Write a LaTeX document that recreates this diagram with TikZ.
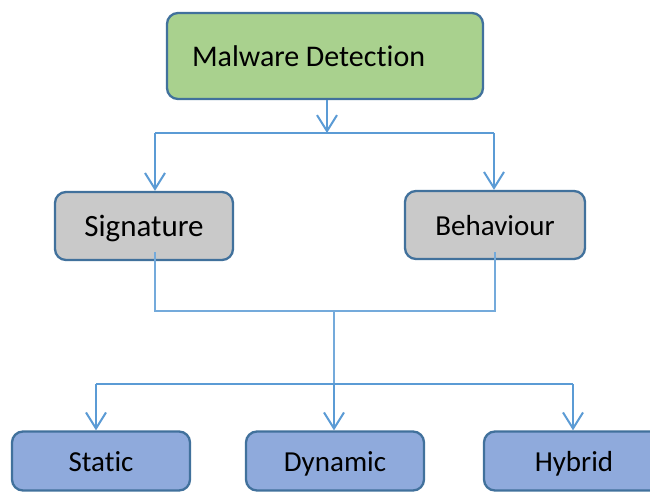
\documentclass[tikz,border=0pt]{standalone}
\usepackage{fontspec}
\setmainfont[Ligatures=NoCommon]{Carlito}
\usetikzlibrary{arrows.meta}
\definecolor{boxborder}{HTML}{41719C}
\definecolor{greenfill}{HTML}{A9D18E}
\definecolor{greyfill}{HTML}{C9C9C9}
\definecolor{bluefill}{HTML}{8FAADC}
\definecolor{connc}{HTML}{5B9BD5}
\begin{document}
\begin{tikzpicture}[x=1pt,y=-1pt,
  box/.style={draw=boxborder, line width=2.3pt, rounded corners=11pt, inner sep=0pt,
    text height=20pt, text depth=0pt},
  toptext/.style={font=\fontsize{30}{34}\selectfont},
  bigtext/.style={font=\fontsize{31}{36}\selectfont},
  midtext/.style={font=\fontsize{29}{34}\selectfont},
  conn/.style={draw=connc, line width=2pt},
  thinconn/.style={draw=connc!85, line width=1.5pt},
  arr/.style={conn, -{Straight Barb[length=16pt,width=20pt]}}]
\useasboundingbox (0,0) rectangle (650,491);
\clip (0,0) rectangle (650,491);
\fill[white] (0,0) rectangle (650,491);

% boxes
\node[box, toptext, fill=greenfill, minimum width=316pt, minimum height=86pt,
  text width=266pt, align=left] (md) at (325,56) {Malware\hspace{0.22em}Detection};
\node[box, bigtext, fill=greyfill, minimum width=178pt, minimum height=68pt] (sig) at (144,226) {Signature};
\node[box, midtext, fill=greyfill, minimum width=180pt, minimum height=68pt] (beh) at (495,225) {Behaviour};
\node[box, midtext, fill=bluefill, minimum width=178pt, minimum height=59pt] (sta) at (101,461) {Static};
\node[box, midtext, fill=bluefill, minimum width=178pt, minimum height=59pt] (dyn) at (335,461) {Dynamic};
\node[box, midtext, fill=bluefill, minimum width=180pt, minimum height=59pt] (hyb) at (574,461) {Hybrid};

% top connectors
\coordinate (j1) at (327,133);
\coordinate (jl) at (155,133);
\coordinate (jr) at (494,133);
\draw[arr] (md.south -| j1) -- (j1);
\draw[conn] (jl) -- (jr);
\draw[arr] (jl) -- (jl |- sig.north);
\draw[arr] (jr) -- (jr |- beh.north);

% middle connectors
\coordinate (st) at (155,252);
\coordinate (bt) at (495,252);
\coordinate (m2) at (334,311);
\coordinate (m3) at (334,384);
\coordinate (ml) at (96,384);
\coordinate (mr) at (573,384);
\draw[thinconn] (st) |- (m2) -| (bt);
\draw[thinconn] (m2) -- (m3);
\draw[conn] (ml) -- (mr);
\draw[arr] (ml) -- (ml |- sta.north);
\draw[arr] (m3) -- (m3 |- dyn.north);
\draw[arr] (mr) -- (mr |- hyb.north);
\end{tikzpicture}
\end{document}
